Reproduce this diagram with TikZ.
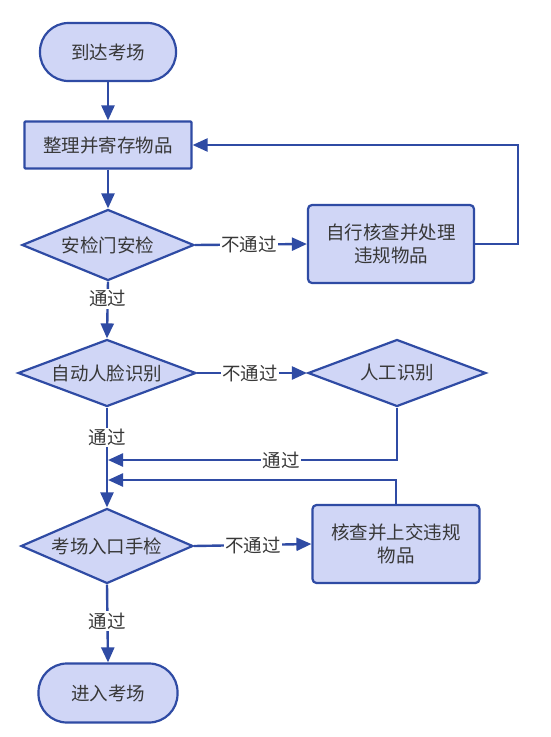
\documentclass[tikz,border=0pt]{standalone}
\usepackage{fontspec}
\newfontfamily\cjk{Noto Sans CJK SC}
\usetikzlibrary{shapes.geometric,arrows.meta}
\definecolor{fillc}{RGB}{208,214,246}
\definecolor{linec}{RGB}{47,75,164}
\definecolor{txtc}{RGB}{56,56,56}
\begin{document}
\begin{tikzpicture}[x=1pt,y=-1pt,
  base/.style={draw=linec, fill=fillc, line width=2.2pt, text=txtc, inner sep=0pt,
    font=\cjk\fontsize{18.5}{23}\selectfont, align=center},
  term/.style={base, rectangle, rounded corners=28.5pt, minimum width=136pt, minimum height=58pt},
  proc/.style={base, rectangle, rounded corners=4pt, minimum width=166pt, minimum height=78pt},
  dec/.style={base, diamond, aspect=2.5, minimum width=174pt, minimum height=70pt},
  flow/.style={draw=linec, line width=2.4pt, -{Triangle[length=15pt,width=13pt]}},
  lbl/.style={fill=white, text=txtc, inner sep=1.5pt, font=\cjk\fontsize{18.5}{22}\selectfont}
]
\useasboundingbox (0,0) rectangle (550,737);
\fill[white] (0,0) rectangle (550,737);

\node[term] (start) at (108,52) {到达考场};
\node[proc, rounded corners=1pt, minimum width=167pt, minimum height=47pt] (store) at (108,145) {整理并寄存物品};
\node[dec, minimum width=172pt, minimum height=71pt] (gate) at (108,245) {安检门安检};
\node[proc] (self) at (391,244) {自行核查并处理\\违规物品};
\node[dec, minimum width=178pt, minimum height=67pt] (face) at (107,373) {自动人脸识别};
\node[dec, minimum width=178pt, minimum height=67pt] (manual) at (397,373) {人工识别};
\node[dec, minimum width=172pt, minimum height=75pt] (hand) at (107,546) {考场入口手检};
\node[proc, minimum width=167pt, minimum height=78pt] (hand2) at (396,544) {核查并上交违规\\物品};
\node[term, minimum width=139pt, minimum height=59pt] (enter) at (108,693) {进入考场};

\coordinate (loop) at (518,145);
\coordinate (j1) at (108,460);
\coordinate (j2) at (108,480);

\draw[flow] (start) -- (store);
\draw[flow] (store) -- (gate);
\draw[flow] (gate.east) -- node[lbl, pos=0.48] {不通过} (self.west);
\draw[flow] (self.east) -| (loop) -- (store.east);
\draw[flow] (gate.south) -- node[lbl, pos=0.3] {通过} (face.north);
\draw[flow] (face.east) -- node[lbl, pos=0.48] {不通过} (manual.west);
\draw[flow] (face.south) -- node[lbl, pos=0.3] {通过} (hand.north);
\draw[flow] (manual.south) |- node[lbl, pos=0.7] {通过} (j1);
\draw[flow] (hand2.north) |- (j2);
\draw[flow] (hand.east) -- node[lbl, pos=0.5] {不通过} (hand2.west);
\draw[flow] (hand.south) -- node[lbl, pos=0.47] {通过} (enter.north);
\end{tikzpicture}
\end{document}
